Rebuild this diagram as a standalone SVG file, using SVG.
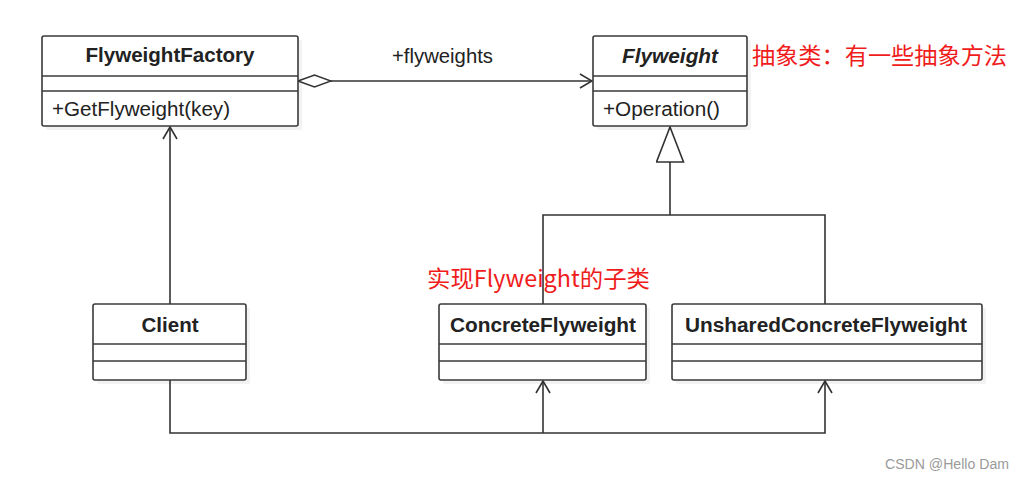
<svg xmlns="http://www.w3.org/2000/svg" width="1024" height="480" viewBox="0 0 1024 480">
  <defs>
    <style>
      .box{fill:#fff;stroke:#3a3a3a;stroke-width:1.6}
      .shadow{fill:#000;opacity:0.05}
      .div{stroke:#3a3a3a;stroke-width:1.6}
      .t{font-family:"Liberation Sans",Arial,sans-serif;font-size:20px;fill:#222}
      .b{font-weight:bold}
      .i{font-style:italic}
      .c{text-anchor:middle}
      .red{font-family:"Noto Sans CJK SC","Liberation Sans",sans-serif;fill:#f01c1c;font-size:23px}
      .edge{fill:none;stroke:#333;stroke-width:1.6}
      .wm{font-family:"Liberation Sans",Arial,sans-serif;font-size:14px;fill:#9a9a9a}
    </style>
    <marker id="open" viewBox="0 0 14 16" refX="13" refY="8" markerWidth="14" markerHeight="16" markerUnits="userSpaceOnUse" orient="auto">
      <path d="M1,1 L13,8 L1,15" fill="none" stroke="#333" stroke-width="1.6"/>
    </marker>
    <marker id="diamond" viewBox="-1 -1 36 14" refX="0" refY="6" markerWidth="36" markerHeight="14" markerUnits="userSpaceOnUse" orient="auto">
      <path d="M0,6 L16.5,0 L33,6 L16.5,12 Z" fill="#fff" stroke="#333" stroke-width="1.6"/>
    </marker>
    <marker id="tri" viewBox="0 0 38 30" refX="36" refY="14.5" markerWidth="38" markerHeight="30" markerUnits="userSpaceOnUse" orient="auto">
      <path d="M1,1 L36,14.5 L1,28 Z" fill="#fff" stroke="#333" stroke-width="1.6"/>
    </marker>
  </defs>
  <rect width="1024" height="480" fill="#fff"/>

  <g id="connectors">
    <path class="edge" d="M298,81 L592,81" marker-start="url(#diamond)" marker-end="url(#open)"/>
    <text class="t" x="392" y="63" textLength="101" lengthAdjust="spacingAndGlyphs">+flyweights</text>
    <path class="edge" d="M170,304 L170,127" marker-end="url(#open)"/>
    <path class="edge" d="M543,304 L543,215 L825,215 L825,304"/>
    <path class="edge" d="M670,215 L670,127" marker-end="url(#tri)"/>
    <path class="edge" d="M170,380 L170,433 L825,433 L825,381" marker-end="url(#open)"/>
    <path class="edge" d="M543,433 L543,381" marker-end="url(#open)"/>
  </g>

  <g id="FlyweightFactory">
    <rect class="shadow" x="46" y="40" width="256" height="90" rx="2"/>
    <rect class="box" x="42" y="36" width="256" height="90" rx="2"/>
    <line class="div" x1="42" y1="76" x2="298" y2="76"/>
    <line class="div" x1="42" y1="91" x2="298" y2="91"/>
    <text class="t b c" x="170" y="62" textLength="169" lengthAdjust="spacingAndGlyphs">FlyweightFactory</text>
    <text class="t" x="52" y="116" textLength="178" lengthAdjust="spacingAndGlyphs">+GetFlyweight(key)</text>
  </g>

  <g id="Flyweight">
    <rect class="shadow" x="597" y="40" width="154" height="90" rx="2"/>
    <rect class="box" x="593" y="36" width="154" height="90" rx="2"/>
    <line class="div" x1="593" y1="76" x2="747" y2="76"/>
    <line class="div" x1="593" y1="91" x2="747" y2="91"/>
    <text class="t b i c" x="670" y="63" textLength="96" lengthAdjust="spacingAndGlyphs">Flyweight</text>
    <text class="t" x="603" y="116" textLength="117" lengthAdjust="spacingAndGlyphs">+Operation()</text>
  </g>

  <g id="note-abstract">
    <text class="red" x="752" y="64" textLength="255" lengthAdjust="spacingAndGlyphs">抽象类：有一些抽象方法</text>
  </g>

  <g id="note-sub">
    <text class="red" x="427" y="287" textLength="223" lengthAdjust="spacingAndGlyphs">实现Flyweight的子类</text>
  </g>

  <g id="Client">
    <rect class="shadow" x="97" y="308" width="153" height="76" rx="2"/>
    <rect class="box" x="93" y="304" width="153" height="76" rx="2"/>
    <line class="div" x1="93" y1="344" x2="246" y2="344"/>
    <line class="div" x1="93" y1="361" x2="246" y2="361"/>
    <text class="t b c" x="170" y="332" textLength="57" lengthAdjust="spacingAndGlyphs">Client</text>
  </g>

  <g id="ConcreteFlyweight">
    <rect class="shadow" x="443" y="308" width="207" height="76" rx="2"/>
    <rect class="box" x="439" y="304" width="207" height="76" rx="2"/>
    <line class="div" x1="439" y1="344" x2="646" y2="344"/>
    <line class="div" x1="439" y1="361" x2="646" y2="361"/>
    <text class="t b c" x="543" y="332" textLength="186" lengthAdjust="spacingAndGlyphs">ConcreteFlyweight</text>
  </g>

  <g id="UnsharedConcreteFlyweight">
    <rect class="shadow" x="676" y="308" width="310" height="76" rx="2"/>
    <rect class="box" x="672" y="304" width="310" height="76" rx="2"/>
    <line class="div" x1="672" y1="344" x2="982" y2="344"/>
    <line class="div" x1="672" y1="361" x2="982" y2="361"/>
    <text class="t b c" x="826" y="332" textLength="282" lengthAdjust="spacingAndGlyphs">UnsharedConcreteFlyweight</text>
  </g>

  <g id="watermark">
    <text class="wm" x="885" y="469" textLength="124" lengthAdjust="spacingAndGlyphs">CSDN @Hello Dam</text>
  </g>
</svg>
